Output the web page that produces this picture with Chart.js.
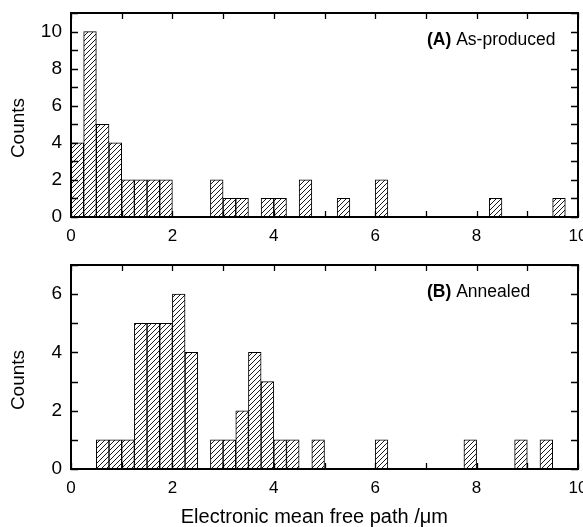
<!DOCTYPE html>
<html>
<head>
<meta charset="utf-8">
<script src="https://cdn.jsdelivr.net/npm/chart.js@4.4.1/dist/chart.umd.min.js"></script>
<style>
  html, body { margin: 0; padding: 0; background: #fff; }
  #wrap { position: relative; width: 583px; height: 527px; }
  canvas { position: absolute; left: 0; }
  #chartA { top: 0; }
  #chartB { top: 250px; }
</style>
</head>
<body>
<div id="wrap">
  <canvas id="chartA" width="583" height="250"></canvas>
  <canvas id="chartB" width="583" height="277"></canvas>
</div>
<script>
// histogram bins are 0.25 um wide; values are left edges of non-empty bins
const binWidth = 0.25;

const asProducedStart = [0, 0.25, 0.5, 0.75, 1.0, 1.25, 1.5, 1.75, 2.75, 3.0, 3.25, 3.75, 4.0, 4.5, 5.25, 6.0, 8.25, 9.5];
const asProducedCounts = [4, 10, 5, 4, 2, 2, 2, 2, 2, 1, 1, 1, 1, 2, 1, 2, 1, 1];

const annealedStart = [0.5, 0.75, 1.0, 1.25, 1.5, 1.75, 2.0, 2.25, 2.75, 3.0, 3.25, 3.5, 3.75, 4.0, 4.25, 4.75, 6.0, 7.75, 8.75, 9.25];
const annealedCounts = [1, 1, 1, 5, 5, 5, 6, 4, 1, 1, 2, 4, 3, 1, 1, 1, 1, 1, 1, 1];

const xTicks = [0, 2, 4, 6, 8, 10];
const xLabel = "Electronic mean free path /\u03bcm";
const yLabel = "Counts";

const FONT = "'Liberation Sans', Arial, Helvetica, sans-serif";

function hatch() {
    const c = document.createElement("canvas");
    c.width = 5;
    c.height = 5;
    const g = c.getContext("2d");
    g.fillStyle = "#fff";
    g.fillRect(0, 0, 5, 5);
    g.strokeStyle = "#000";
    g.lineWidth = 0.9;
    g.beginPath();
    g.moveTo(-1, 6); g.lineTo(6, -1);
    g.moveTo(-1, 1); g.lineTo(1, -1);
    g.moveTo(4, 6); g.lineTo(6, 4);
    g.stroke();
    return g.createPattern(c, "repeat");
}

// frame, inward ticks, axis titles and panel label
const framePlugin = {
    id: "frame",
    afterDraw(chart, args, opts) {
        const ctx = chart.ctx;
        const a = chart.chartArea;
        const xs = chart.scales.x, ys = chart.scales.y;
        ctx.save();
        ctx.strokeStyle = "#000";
        ctx.lineWidth = 2;
        ctx.strokeRect(a.left, a.top, a.right - a.left, a.bottom - a.top);
        ctx.lineWidth = 1.3;
        ctx.beginPath();
        for (let v = xs.min; v <= xs.max; v += 1) {
            const px = Math.round(xs.getPixelForValue(v)) + 0.5;
            ctx.moveTo(px, a.bottom); ctx.lineTo(px, a.bottom - 6);
            ctx.moveTo(px, a.top); ctx.lineTo(px, a.top + 6);
        }
        for (let v = ys.min; v <= ys.max; v += 1) {
            const py = Math.round(ys.getPixelForValue(v)) + 0.5;
            ctx.moveTo(a.left, py); ctx.lineTo(a.left + 7, py);
            ctx.moveTo(a.right, py); ctx.lineTo(a.right - 7, py);
        }
        ctx.stroke();

        ctx.fillStyle = "#000";
        ctx.textAlign = "center";
        ctx.textBaseline = "middle";
        if (opts.xTitle) {
            ctx.font = "20px " + FONT;
            ctx.fillText(xLabel, xs.getPixelForValue(4.8), a.bottom + 48);
        }
        ctx.font = "19px " + FONT;
        ctx.translate(19, (a.top + a.bottom) / 2 + 13);
        ctx.rotate(-Math.PI / 2);
        ctx.fillText(yLabel, 0, 0);
        ctx.restore();

        ctx.save();
        ctx.fillStyle = "#000";
        ctx.textBaseline = "middle";
        ctx.textAlign = "left";
        ctx.font = "bold 17.5px " + FONT;
        const x0 = a.left + opts.dx;
        const y0 = a.top + opts.dy;
        ctx.fillText(opts.tag, x0, y0);
        const w = ctx.measureText(opts.tag + " ").width;
        ctx.font = "17.5px " + FONT;
        ctx.fillText(opts.name, x0 + w, y0);
        ctx.restore();
    }
};

function makeChart(id, starts, counts, yMax, tag, name, cfg) {
    const ctx = document.getElementById(id).getContext("2d");
    return new Chart(ctx, {
        type: "bar",
        data: {
            datasets: [{
                data: starts.map((s, i) => ({ x: s + binWidth / 2, y: counts[i] })),
                backgroundColor: hatch(),
                borderColor: "#000",
                borderWidth: 1,
                borderSkipped: false,
                barPercentage: 1,
                categoryPercentage: 1
            }]
        },
        options: {
            responsive: false,
            animation: false,
            devicePixelRatio: 1,
            layout: { padding: { top: cfg.top, right: 5, left: 0, bottom: 0 } },
            plugins: {
                legend: { display: false },
                tooltip: { enabled: false },
                frame: { tag: tag, name: name, dx: 356, dy: cfg.labelY, xTitle: cfg.showTitle }
            },
            scales: {
                x: {
                    type: "linear",
                    min: 0,
                    max: 10,
                    offset: false,
                    afterFit: s => {
                        s.height = cfg.xHeight;
                        s.paddingLeft = 0;
                        s.paddingRight = 0;
                    },
                    afterBuildTicks: s => { s.ticks = xTicks.map(v => ({ value: v })); },
                    grid: { display: false, drawTicks: false },
                    border: { display: false },
                    ticks: { color: "#000", padding: 9, font: { family: FONT, size: 17 }, maxRotation: 0 }
                },
                y: {
                    min: 0,
                    max: yMax,
                    afterFit: s => {
                        s.width = 71;
                        s.paddingTop = 0;
                        s.paddingBottom = 0;
                    },
                    grid: { display: false, drawTicks: false },
                    border: { display: false },
                    ticks: { color: "#000", padding: 9, stepSize: 2, includeBounds: false, font: { family: FONT, size: 19 } }
                }
            }
        },
        plugins: [framePlugin]
    });
}

makeChart("chartA", asProducedStart, asProducedCounts, 11, "(A)", "As-produced",
    { top: 13, xHeight: 33, labelY: 27, showTitle: false });
makeChart("chartB", annealedStart, annealedCounts, 7, "(B)", "Annealed",
    { top: 15, xHeight: 58, labelY: 27, showTitle: true });
</script>
</body>
</html>
